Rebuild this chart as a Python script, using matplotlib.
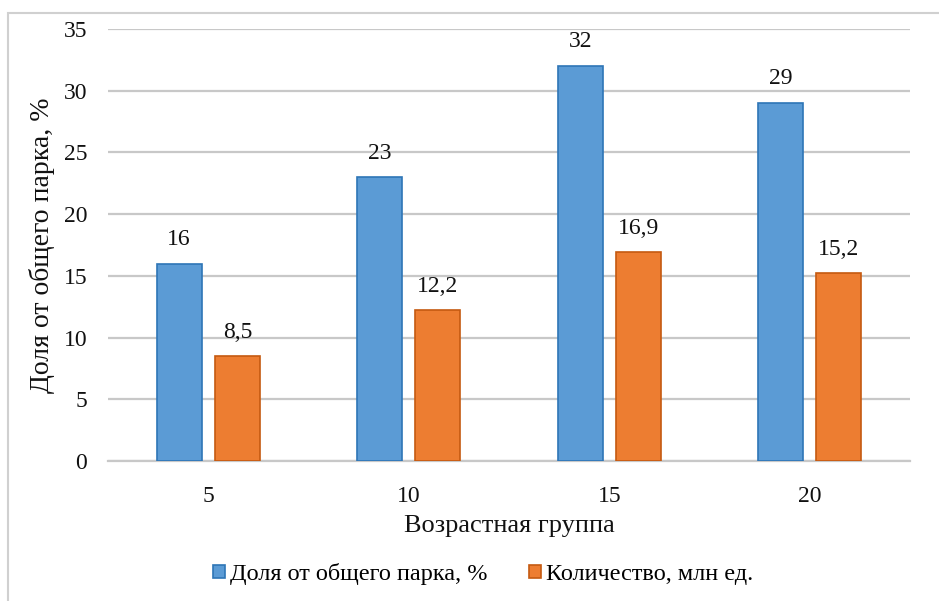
import matplotlib.pyplot as plt
import numpy as np
from matplotlib.patches import Rectangle

plt.rcParams['font.family'] = ['Liberation Serif', 'DejaVu Serif']

groups = ['5', '10', '15', '20']
share = [16, 23, 32, 29]
count = [8.5, 12.2, 16.9, 15.2]
share_name = 'Доля от общего парка, %'
count_name = 'Количество, млн ед.'

fig = plt.figure(figsize=(9.39, 6.01), dpi=100)
ax = fig.add_axes([108 / 939, 1 - 461 / 601, 802 / 939, 432 / 601])

# frame round the whole chart (cut off at right and bottom)
fig.patches.append(Rectangle((8 / 939, -0.1), 1.1, 1 - 13 / 601 + 0.1,
                             transform=fig.transFigure, fill=False,
                             edgecolor='#d0d0d0', linewidth=1.5))

x = np.arange(len(groups))
w = 0.224
off = 0.145
b1 = ax.bar(x - off, share, w, color='#5b9bd5', edgecolor='#2e75b6',
            linewidth=1.2, label=share_name, zorder=3)
b2 = ax.bar(x + off, count, w, color='#ed7d31', edgecolor='#c55a11',
            linewidth=1.2, label=count_name, zorder=3)

fmt = lambda v: ('%g' % v).replace('.', ',')
for bars, vals in ((b1, share), (b2, count)):
    for r, v in zip(bars, vals):
        ax.text(r.get_x() + r.get_width() / 2, v + 1.1, fmt(v),
                ha='center', va='bottom', fontsize=17, color='#111111')

ax.set_xlim(-0.5, len(groups) - 0.5)
ax.set_ylim(0, 35)
ax.set_yticks(range(0, 36, 5))
ax.set_xticks(x)
ax.set_xticklabels(groups)
ax.yaxis.grid(True, color='#c8c8c8', linewidth=1.6, zorder=0)
ax.set_axisbelow(True)
for s in ('top', 'right', 'left'):
    ax.spines[s].set_visible(False)
ax.spines['bottom'].set_color('#c8c8c8')
ax.spines['bottom'].set_linewidth(1.6)
ax.tick_params(axis='both', length=0, labelsize=17, colors='#111111')
ax.tick_params(axis='y', pad=15)
ax.tick_params(axis='x', pad=18)

ax.set_ylabel('Доля от общего парка, %', fontsize=20, color='#111111', labelpad=6)
ax.set_xlabel('Возрастная группа', fontsize=19, color='#111111', labelpad=6)

ax.legend(loc='center', bbox_to_anchor=(0.468, -0.262), ncol=2,
          frameon=False, fontsize=17.5, handlelength=0.5, handleheight=0.5,
          handletextpad=0.2, columnspacing=1.7)

fig.savefig('out.png', dpi=100)
